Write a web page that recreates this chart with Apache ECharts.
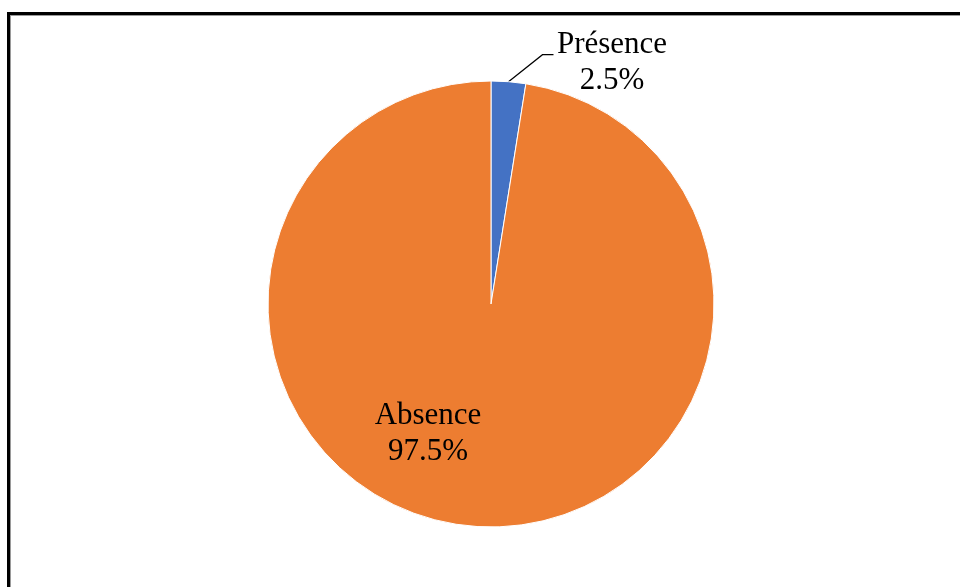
<!DOCTYPE html>
<html>
<head>
<meta charset="utf-8">
<script src="https://cdn.jsdelivr.net/npm/echarts@6/dist/echarts.min.js"></script>
<style>
  html, body { margin: 0; padding: 0; width: 960px; height: 587px; overflow: hidden; background: #fff; }
  #frame {
    position: absolute; left: 7px; top: 12px; width: 1100px; height: 800px;
    border-left: 3px solid #000; border-top: 3px solid #000;
    box-shadow: inset 1px 1px 0 #9a9a9a;
  }
  #main { position: absolute; left: 0; top: 0; width: 960px; height: 587px; }
</style>
</head>
<body>
<div id="frame"></div>
<div id="main"></div>
<script>
// catégories et valeurs (%)
const categories = ['Présence', 'Absence'];
const values = [2.5, 97.5];
const colors = ['#4472C4', '#ED7D31'];

var myChart = echarts.init(document.getElementById('main'));

const pieData = categories.map(function (name, i) {
  return {
    name: name,
    value: values[i],
    itemStyle: { color: colors[i] },
    labelLine: { show: i === 0 }
  };
});

let option = {
  animation: false,
  series: [
    {
      type: 'pie',
      center: [491, 304],
      radius: 223,
      startAngle: 90,
      clockwise: true,
      itemStyle: { borderColor: '#fff', borderWidth: 1 },
      label: {
        show: true,
        position: 'outside',
        formatter: '{b}\n{c}%',
        fontFamily: 'Liberation Serif',
        fontSize: 31,
        lineHeight: 36,
        color: '#000',
        align: 'center'
      },
      labelLine: {
        show: true,
        lineStyle: { color: '#000', width: 1.2 }
      },
      labelLayout: function (params) {
        if (params.dataIndex === 0) {
          const a = params.labelLinePoints ? params.labelLinePoints[0] : [508, 81];
          return {
            x: 612, y: 63, align: 'center', verticalAlign: 'middle',
            labelLinePoints: [a, [a[0] + 34, a[1] - 27], [a[0] + 45, a[1] - 27]]
          };
        }
        return { x: 428, y: 434, align: 'center', verticalAlign: 'middle' };
      },
      data: pieData
    }
  ]
};
myChart.setOption(option);
</script>
</body>
</html>
